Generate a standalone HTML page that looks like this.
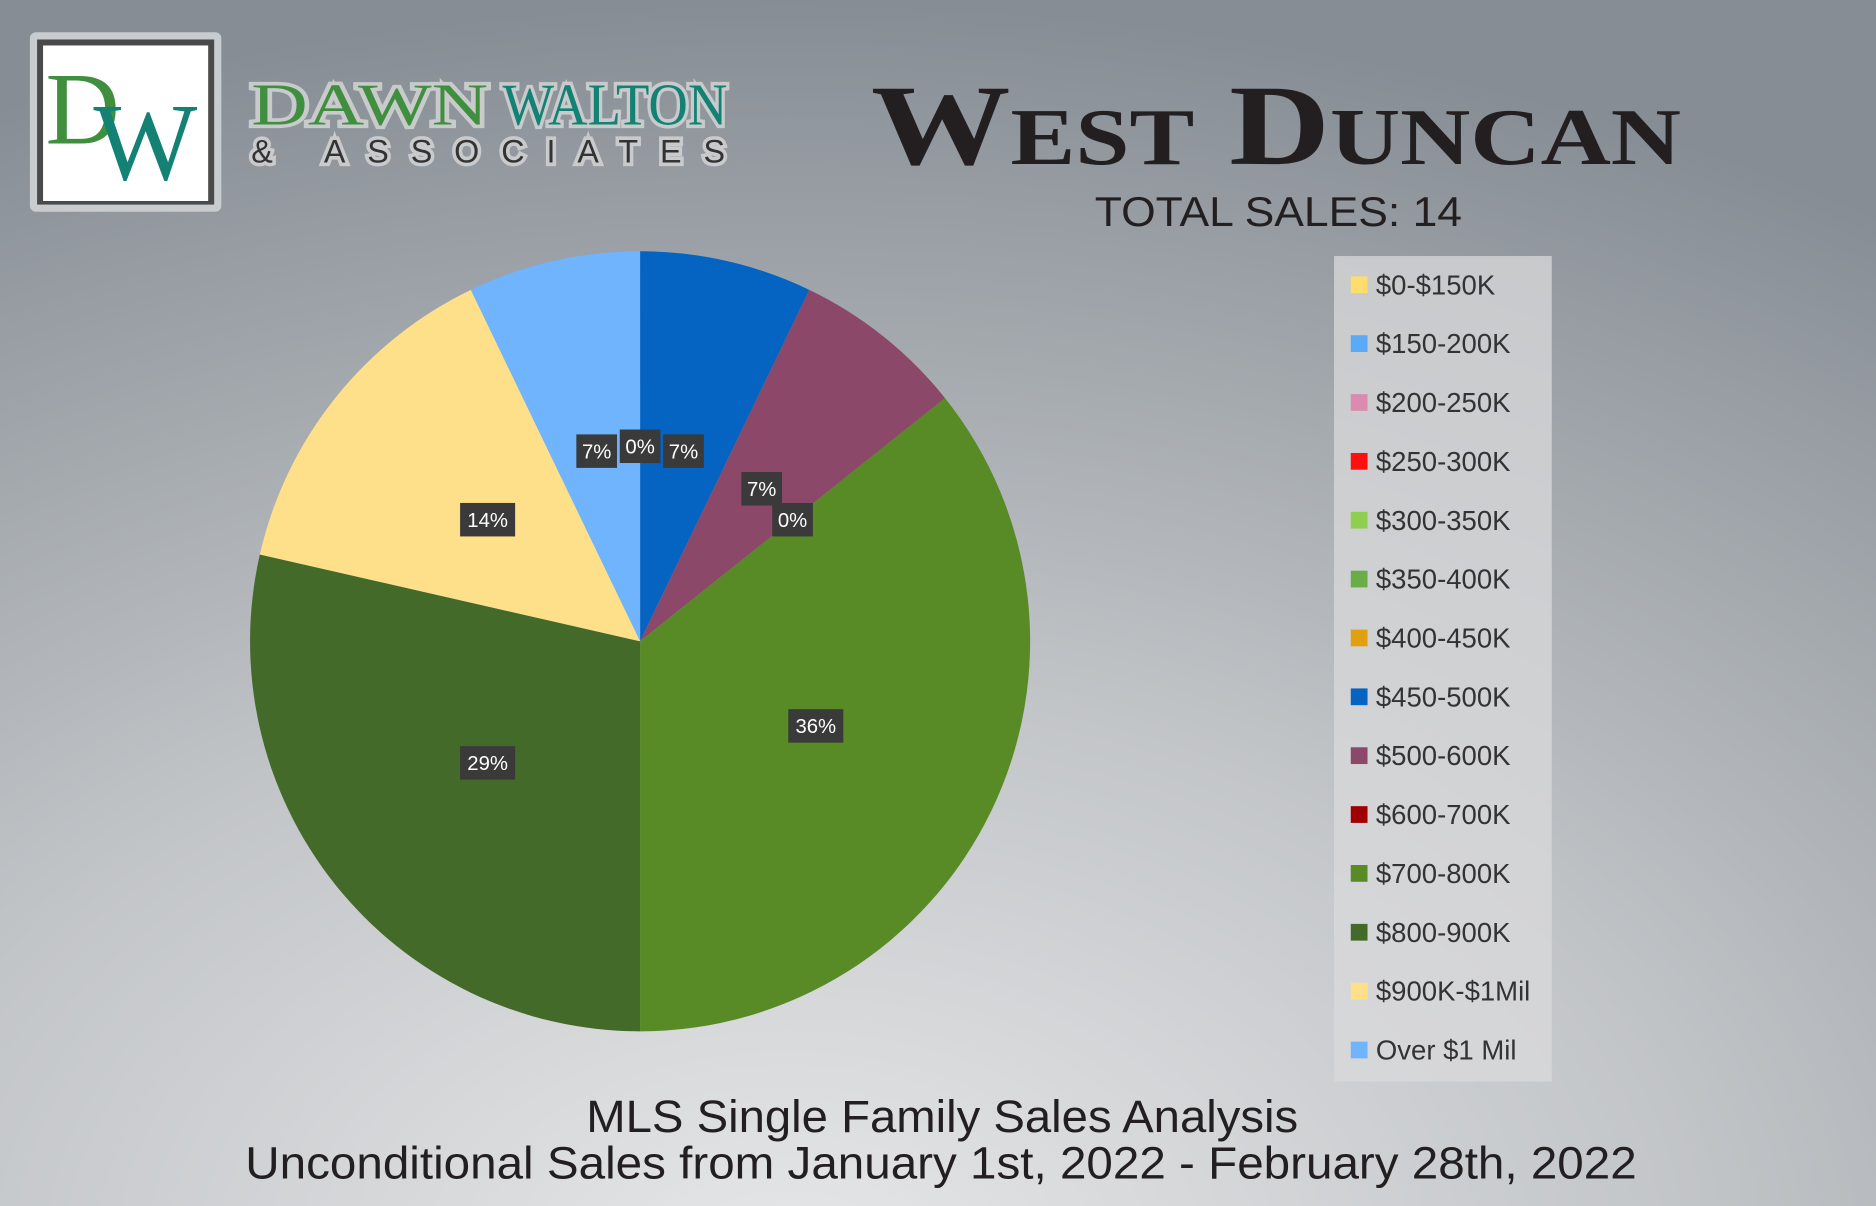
<!DOCTYPE html>
<html><head><meta charset="utf-8"><style>
html,body{margin:0;padding:0;width:1876px;height:1206px;overflow:hidden}
svg{display:block}
</style></head><body>
<svg id="chart" width="1876" height="1206" viewBox="0 0 1568 1008" xmlns="http://www.w3.org/2000/svg">
<defs>
<radialGradient id="bg" cx="0.42" cy="1.05" r="1.05">
<stop offset="0" stop-color="#e6e7e8"/>
<stop offset="0.45" stop-color="#c3c6c9"/>
<stop offset="1" stop-color="#868d94"/>
</radialGradient>
</defs>
<rect width="1568" height="1008" fill="url(#bg)"/>
<g>
<rect x="25" y="27" width="160" height="150" rx="5" fill="#c9ccce"/>
<rect x="31" y="33" width="148" height="138" fill="#4a4a4a"/>
<rect x="36" y="38" width="138" height="130" fill="#ffffff"/>
<text x="38" y="120" font-family="Liberation Serif, serif" font-size="86" fill="#3f8f3f">D</text>
<text x="78" y="150" font-family="Liberation Serif, serif" font-size="92" fill="#138275">W</text>
<text x="210" y="104" font-family="Liberation Serif, serif" font-size="50" fill="#3f8f3f" stroke="#c8cacc" stroke-width="6" paint-order="stroke" textLength="198" lengthAdjust="spacingAndGlyphs">DAWN</text>
<text x="420" y="104" font-family="Liberation Serif, serif" font-size="50" fill="#138275" stroke="#c8cacc" stroke-width="6" paint-order="stroke" textLength="188" lengthAdjust="spacingAndGlyphs">WALTON</text>
<text x="210" y="136" font-family="Liberation Sans, sans-serif" font-size="27" fill="#333" stroke="#c8cacc" stroke-width="6" paint-order="stroke" textLength="396">&amp; ASSOCIATES</text>
</g>
<text x="728" y="137" font-family="Liberation Serif, serif" font-size="96" font-weight="bold" fill="#231f20" style="font-variant:small-caps" textLength="677" lengthAdjust="spacingAndGlyphs">West Duncan</text>
<text x="915" y="189" font-family="Liberation Sans, sans-serif" font-size="35" fill="#231f20" textLength="307" lengthAdjust="spacingAndGlyphs">TOTAL SALES: 14</text>
<g id="pie"></g>
<g id="labels"></g>
<rect x="1115" y="214" width="182" height="690" fill="#d9dadb" opacity="0.75"/>
<g id="legend"></g>
<text x="490" y="946" font-family="Liberation Sans, sans-serif" font-size="38" fill="#231f20" textLength="595" lengthAdjust="spacingAndGlyphs">MLS Single Family Sales Analysis</text>
<text x="205" y="985" font-family="Liberation Sans, sans-serif" font-size="38" fill="#231f20" textLength="1163" lengthAdjust="spacingAndGlyphs">Unconditional Sales from January 1st, 2022 - February 28th, 2022</text>
</svg>
<script>
const categories=["$0-$150K","$150-200K","$200-250K","$250-300K","$300-350K","$350-400K","$400-450K","$450-500K","$500-600K","$600-700K","$700-800K","$800-900K","$900K-$1Mil","Over $1 Mil"];
const values=[0,0,0,0,0,0,0,1,1,0,5,4,2,1];
const colors=["#ffdc6e","#5aaaf5","#d98cb0","#ff1010","#8fcf50","#6aac48","#e0a010","#0563c1","#8b4868","#a00000","#588a25","#446a2a","#ffe08a","#6fb4fc"];
const ns="http://www.w3.org/2000/svg";
const cx=535,cy=536,R=326;
const total=values.reduce((a,b)=>a+b,0);
const pie=document.getElementById('pie'),lab=document.getElementById('labels'),leg=document.getElementById('legend');
const order=[7,8,9,10,11,12,13,0,1,2,3,4,5,6];
let ang=0;
function pt(a,r){return [cx+r*Math.sin(a),cy-r*Math.cos(a)];}
const labelIdx=[7,8,9,10,11,12,13,0];
order.forEach(i=>{
  const v=values[i],sweep=v/total*2*Math.PI;
  if(v>0){
    const [x1,y1]=pt(ang,R),[x2,y2]=pt(ang+sweep,R);
    const p=document.createElementNS(ns,'path');
    p.setAttribute('d',`M${cx},${cy}L${x1},${y1}A${R},${R} 0 ${sweep>Math.PI?1:0} 1 ${x2},${y2}Z`);
    p.setAttribute('fill',colors[i]);
    
    
    pie.appendChild(p);
  }
  if(labelIdx.includes(i)){
    const mid=ang+sweep/2;
    let [lx,ly]=pt(mid,163);
    if(i===0){lx=cx;ly=cy-163;}
    const g=document.createElementNS(ns,'g');
    
    
    const r=document.createElementNS(ns,'rect');
    const w=v>=2?46:34;
    r.setAttribute('x',lx-w/2);r.setAttribute('y',ly-14);r.setAttribute('width',w);r.setAttribute('height',28);
    r.setAttribute('fill','#3a3a3a');
    g.appendChild(r);
    const t=document.createElementNS(ns,'text');
    t.setAttribute('x',lx);t.setAttribute('y',ly+6);t.setAttribute('text-anchor','middle');
    t.setAttribute('font-family','Liberation Sans, sans-serif');t.setAttribute('font-size','17');t.setAttribute('fill','#fff');
    t.textContent=Math.round(v/total*100)+'%';
    g.appendChild(t);
    lab.appendChild(g);
  }
  ang+=sweep;
});
categories.forEach((c,i)=>{
  const y=238+i*49.2;
  const g=document.createElementNS(ns,'g');
  
  
  const r=document.createElementNS(ns,'rect');
  r.setAttribute('x',1129);r.setAttribute('y',y-7);r.setAttribute('width',14);r.setAttribute('height',14);r.setAttribute('fill',colors[i]);
  g.appendChild(r);
  const t=document.createElementNS(ns,'text');
  t.setAttribute('x',1150);t.setAttribute('y',y+8);
  t.setAttribute('font-family','Liberation Sans, sans-serif');t.setAttribute('font-size','23');t.setAttribute('fill','#333');
  t.textContent=c;
  g.appendChild(t);
  leg.appendChild(g);
});
</script>
</body></html>
